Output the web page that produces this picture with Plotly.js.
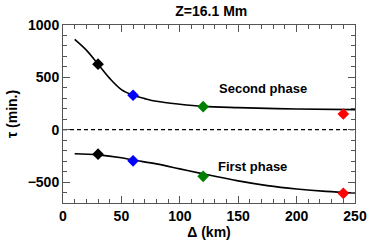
<!DOCTYPE html>
<html><head><meta charset="utf-8">
<script src="https://cdn.plot.ly/plotly-3.0.1.min.js"></script>
<style>html,body{margin:0;padding:0;background:#fff}</style>
</head><body><div id="chart" style="width:374px;height:245px"></div>
<script>
const ptX = [30, 60, 120, 240];
const ptColors = ['#000000', '#0000ff', '#008000', '#ff0000'];
const secondPts = [626, 329, 220, 150];
const firstPts = [-234, -297, -445, -608];

const curveX2 = [10, 20, 30, 40, 50, 60, 70, 80, 100, 120, 150, 200, 250];
const curveY2 = [863, 760, 626, 490, 383, 329, 297, 271, 243, 223, 211, 198, 192];
const curveX1 = [10, 30, 50, 60, 80, 100, 120, 150, 175, 200, 225, 250];
const curveY1 = [-230, -240, -268, -290, -326, -374, -422, -489, -534, -566, -589, -604];

const zeroX = [0, 250];
const zeroY = [0, 0];

const font = {family: 'Liberation Sans, Arial, sans-serif', color: '#000'};

const traces = [
  {x: zeroX, y: zeroY, mode: 'lines', line: {color: '#000', width: 1.3, dash: '4px,3px'}, hoverinfo: 'skip'},
  {x: curveX2, y: curveY2, mode: 'lines', line: {color: '#000', width: 1.6, shape: 'spline'}},
  {x: curveX1, y: curveY1, mode: 'lines', line: {color: '#000', width: 1.6, shape: 'spline'}},
  {x: ptX, y: secondPts, mode: 'markers', marker: {symbol: 'diamond', size: 9, color: ptColors}},
  {x: ptX, y: firstPts, mode: 'markers', marker: {symbol: 'diamond', size: 9, color: ptColors}}
];

const axisCommon = {
  showgrid: false, zeroline: false, showline: true, linecolor: '#555', linewidth: 1,
  mirror: 'allticks', ticks: 'inside', ticklen: 7, tickcolor: '#555', tickwidth: 1,
  tickfont: Object.assign({size: 14, weight: 'bold'}, font)
};

const layout = {
  width: 374, height: 245,
  margin: {l: 63, r: 19, t: 25, b: 42},
  paper_bgcolor: '#fff', plot_bgcolor: '#fff',
  showlegend: false,
  title: {text: 'Z=16.1 Mm', x: 0.565, xanchor: 'center', y: 0.955, yanchor: 'middle',
          font: Object.assign({size: 14, weight: 'bold'}, font)},
  xaxis: Object.assign({}, axisCommon, {
    range: [0, 250], dtick: 50, tick0: 0,
    minor: {dtick: 10, ticks: 'inside', ticklen: 4, tickcolor: '#555'},
    title: {text: 'Δ (km)', standoff: 4, font: Object.assign({size: 14, weight: 'bold'}, font)}
  }),
  yaxis: Object.assign({}, axisCommon, {
    range: [-700, 1000], dtick: 500, tick0: 0,
    minor: {dtick: 100, ticks: 'inside', ticklen: 4, tickcolor: '#555'},
    title: {text: 'τ (min.)', standoff: 6, font: Object.assign({size: 14, weight: 'bold'}, font)}
  }),
  annotations: [
    {x: 171, y: 393, text: 'Second phase', showarrow: false, xanchor: 'center', yanchor: 'middle',
     font: Object.assign({size: 13, weight: 'bold'}, font)},
    {x: 162, y: -352, text: 'First phase', showarrow: false, xanchor: 'center', yanchor: 'middle',
     font: Object.assign({size: 13, weight: 'bold'}, font)}
  ]
};

Plotly.newPlot('chart', traces, layout, {displayModeBar: false, staticPlot: true});
</script>
</body></html>
